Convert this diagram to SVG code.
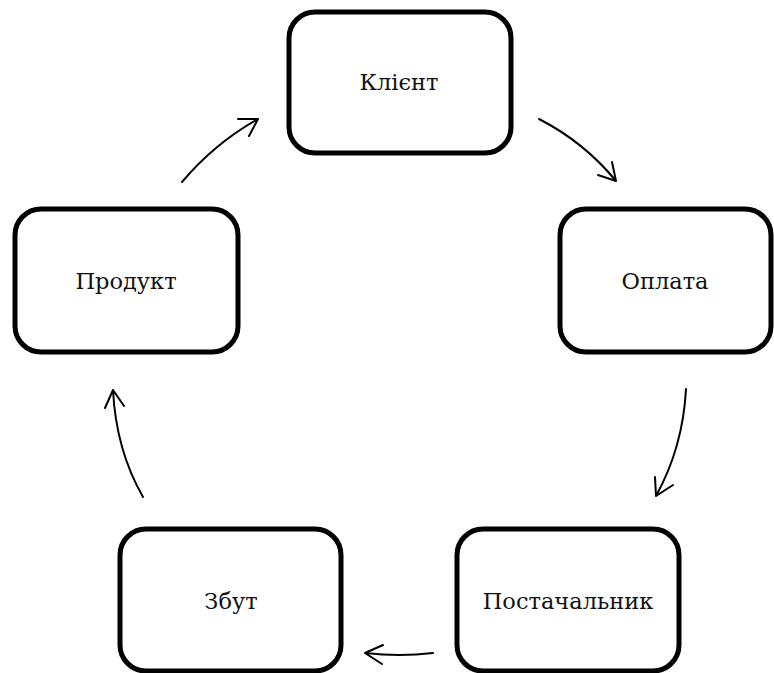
<svg xmlns="http://www.w3.org/2000/svg" width="774" height="673" viewBox="0 0 774 673">
<style>
.box{fill:#fff;stroke:#000;stroke-width:5}
.lbl{font-family:"DejaVu Serif","Liberation Serif",serif;font-size:22.5px;fill:#111;text-anchor:middle}
.c{fill:none;stroke:#000;stroke-width:2;stroke-linecap:round;stroke-linejoin:round}
</style>
<rect width="774" height="673" fill="#fff"/>
<g id="klient"><rect class="box" x="289" y="12" width="222" height="141" rx="26"/><text class="lbl" x="399" y="90">Клієнт</text></g>
<g id="oplata"><rect class="box" x="560" y="209" width="211" height="143" rx="26"/><text class="lbl" x="665" y="289">Оплата</text></g>
<g id="postach"><rect class="box" x="457" y="529" width="222" height="142" rx="26"/><text class="lbl" x="568" y="609">Постачальник</text></g>
<g id="zbut"><rect class="box" x="120" y="529" width="221" height="142" rx="26"/><text class="lbl" x="231" y="609">Збут</text></g>
<g id="produkt"><rect class="box" x="15" y="209" width="223" height="143" rx="26"/><text class="lbl" x="126" y="289">Продукт</text></g>
<g id="connectors">
<path class="c" d="M539,119 Q584,142 616,181 M598,175 L616,181 L612,162"/>
<path class="c" d="M686,389 Q683,447 656,496 M655,477 L656,496 L673,485"/>
<path class="c" d="M433,653 Q400,657 365,653 M383,645 L365,653 L382,664"/>
<path class="c" d="M143,497 Q116,450 113,390 M105,408 L113,390 L124,406"/>
<path class="c" d="M182,182 Q215,143 258,119 M238,119 L258,119 L249,136"/>
</g>
</svg>
